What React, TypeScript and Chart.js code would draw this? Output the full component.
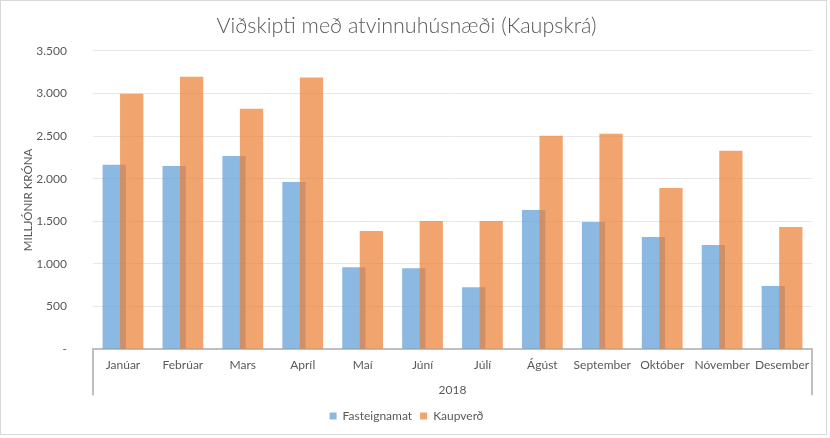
import React, { useEffect, useRef } from "react";
import { Chart, registerables } from "chart.js";

Chart.register(...registerables);

const months = [
  "Janúar", "Febrúar", "Mars", "Apríl", "Maí", "Júní",
  "Júlí", "Ágúst", "September", "Október", "Nóvember", "Desember",
];
const fasteignamat = [2162, 2150, 2266, 1962, 962, 950, 727, 1633, 1492, 1315, 1221, 740];
const kaupverd = [2996, 3196, 2820, 3186, 1386, 1503, 1503, 2503, 2527, 1892, 2327, 1433];
const seriesNames = ["Fasteignamat", "Kaupverð"];
const groupLabel = "2018";
const titleText = "Viðskipti með atvinnuhúsnæði (Kaupskrá)";
const yTitleText = "MILLJÓNIR KRÓNA";
const yMin = 0;
const yMax = 3500;
const yStep = 500;

const FONT = "Lato, 'Liberation Sans', sans-serif";
const TEXT = "#595959";

const orderPlugin = {
  id: "orangeOnTop",
  beforeDatasetDraw(chart: any, args: any) {
    if (args.index === 1) return false;
  },
  afterDatasetsDraw(chart: any) {
    const meta = chart.getDatasetMeta(1);
    if (meta && meta.controller) meta.controller.draw();
  },
};

const separatorPlugin = {
  id: "groupSeparators",
  afterDraw(chart: any) {
    const { ctx, chartArea } = chart;
    ctx.save();
    ctx.strokeStyle = "#bfbfbf";
    ctx.lineWidth = 2;
    [chartArea.left, chartArea.right].forEach((x: number) => {
      ctx.beginPath();
      ctx.moveTo(x, chartArea.bottom);
      ctx.lineTo(x, chartArea.bottom + 46);
      ctx.stroke();
    });
    ctx.restore();
  },
};

export default function App() {
  const ref = useRef<HTMLCanvasElement | null>(null);

  useEffect(() => {
    if (!ref.current) return;
    const chart = new Chart(ref.current, {
      type: "bar",
      data: {
        labels: months,
        datasets: [
          {
            label: seriesNames[0],
            data: fasteignamat,
            backgroundColor: "rgba(91,155,213,0.7)",
            borderWidth: 0,
            categoryPercentage: 0.584,
            barPercentage: 1.33,
          },
          {
            label: seriesNames[1],
            data: kaupverd,
            backgroundColor: "rgba(237,125,49,0.7)",
            borderWidth: 0,
            categoryPercentage: 0.584,
            barPercentage: 1.33,
          },
        ],
      },
      options: {
        animation: false,
        responsive: false,
        layout: { padding: { left: 0, right: 14, top: 0, bottom: 2 } },
        plugins: {
          title: {
            display: true,
            text: titleText,
            color: TEXT,
            font: { family: FONT, size: 21.5, weight: "300" },
            padding: { top: 12, bottom: 12 },
          },
          legend: {
            position: "bottom",
            labels: {
              boxWidth: 7,
              boxHeight: 7,
              color: TEXT,
              font: { family: FONT, size: 12 },
              padding: 8,
            },
          },
          tooltip: { enabled: false },
        },
        scales: {
          x: {
            grid: { display: false, drawTicks: false, tickLength: 0 },
            border: { display: true, color: "#bfbfbf", width: 2 },
            ticks: {
              color: TEXT,
              font: { family: FONT, size: 12 },
              padding: 9,
              maxRotation: 0,
              autoSkip: false,
            },
            title: {
              display: true,
              text: groupLabel,
              color: TEXT,
              font: { family: FONT, size: 12 },
              padding: { top: 1, bottom: 5 },
            },
          },
          y: {
            min: yMin,
            max: yMax,
            ticks: {
              stepSize: yStep,
              color: TEXT,
              font: { family: FONT, size: 12 },
              padding: 26,
              callback: (v: any) =>
                Number(v) === 0 ? "-" : Number(v).toLocaleString("de-DE"),
            },
            grid: { color: "#e8e8e8", drawTicks: false },
            border: { display: false },
            title: {
              display: true,
              text: yTitleText,
              color: TEXT,
              font: { family: FONT, size: 11.5 },
              padding: { top: 20, bottom: 0 },
            },
            afterFit(scale: any) {
              scale.width = 92;
            },
          },
        },
      },
      plugins: [orderPlugin, separatorPlugin],
    } as any);
    return () => chart.destroy();
  }, []);

  return (
    <div
      style={{
        position: "absolute",
        left: 0,
        top: 0,
        width: 827,
        height: 435,
        border: "1px solid #d9d9d9",
        boxSizing: "border-box",
        background: "#ffffff",
      }}
    >
      <canvas ref={ref} width={825} height={433} style={{ display: "block" }} />
    </div>
  );
}
